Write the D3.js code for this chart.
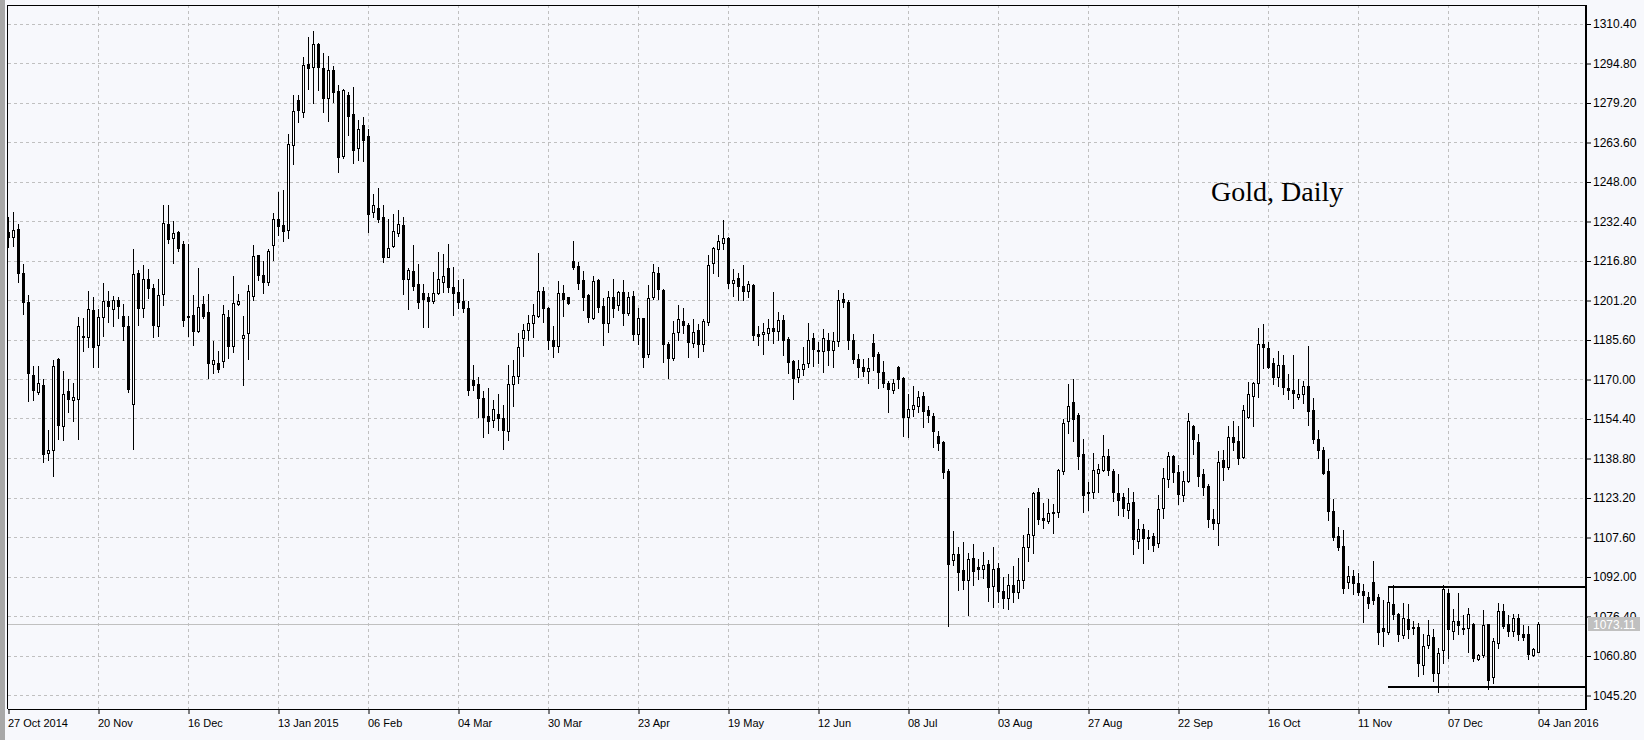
<!DOCTYPE html>
<html><head><meta charset="utf-8">
<script src="https://cdn.jsdelivr.net/npm/d3@7"></script>
<style>
html,body{margin:0;padding:0;background:#F7F8FC;}
svg{display:block;}
</style></head>
<body>
<svg id="chart" width="1644" height="740"></svg>
<script>
// ---- DATA (Gold daily OHLC, 27 Oct 2014 – 04 Jan 2016) ----
const open = [1228.2,1226.1,1229.1,1211.9,1200.4,1171.6,1165.0,1167.6,1140.8,1141.8,1177.8,1151.5,1165.2,1161.9,1162.1,1187.0,1186.5,1197.4,1183.5,1194.5,
1200.9,1197.6,1201.3,1195.0,1191.0,1160.0,1211.9,1198.0,1209.3,1206.0,1190.8,1203.6,1231.1,1225.8,1228.2,1223.5,1195.0,1195.4,1189.0,1199.5,
1196.3,1176.1,1176.3,1177.1,1194.5,1183.0,1199.5,1186.0,1188.3,1202.7,1218.9,1211.0,1208.3,1223.1,1233.1,1230.7,1229.0,1262.6,1280.1,1275.5,
1294.3,1293.3,1302.2,1293.0,1280.8,1292.2,1283.7,1258.1,1282.1,1274.8,1261.3,1270.2,1265.9,1236.0,1237.7,1234.0,1218.2,1222.5,1227.8,1230.8,
1209.3,1212.6,1207.7,1203.8,1202.2,1200.9,1204.0,1208.4,1213.7,1206.2,1204.2,1200.8,1197.9,1169.5,1167.9,1162.6,1155.3,1153.9,1156.0,1154.7,
1149.3,1167.9,1171.2,1186.0,1189.5,1192.3,1194.9,1204.7,1198.1,1185.3,1183.1,1203.8,1202.2,1216.6,1214.6,1209.1,1203.1,1193.9,1209.1,1198.8,
1192.2,1202.2,1199.2,1204.2,1196.1,1202.7,1187.6,1193.9,1180.0,1202.5,1211.7,1205.1,1184.0,1178.1,1188.4,1193.0,1191.5,1184.3,1189.5,1183.7,
1192.6,1215.7,1221.2,1223.8,1225.5,1208.1,1209.7,1206.7,1204.8,1207.1,1187.7,1187.7,1188.0,1190.3,1189.0,1193.2,1185.7,1177.0,1170.8,1173.9,
1176.2,1186.2,1181.5,1181.2,1185.4,1181.5,1185.1,1201.6,1200.3,1185.4,1177.9,1174.9,1173.0,1184.2,1179.9,1172.6,1168.4,1165.6,1174.9,1170.4,
1154.9,1158.1,1159.2,1163.4,1157.9,1155.3,1147.6,1145.2,1133.8,1098.5,1100.9,1094.6,1090.7,1099.3,1095.6,1094.9,1096.9,1088.4,1095.3,1086.4,
1083.5,1088.5,1086.0,1090.5,1103.8,1108.3,1125.4,1115.0,1113.9,1117.0,1117.3,1133.5,1153.6,1161.1,1155.6,1140.4,1125.4,1125.2,1132.7,1134.2,
1139.5,1133.8,1124.9,1123.5,1118.2,1121.5,1106.0,1110.6,1107.6,1108.0,1105.1,1119.0,1130.5,1139.5,1133.4,1124.1,1129.8,1151.6,1145.3,1132.4,
1127.6,1114.9,1113.2,1137.9,1135.3,1146.9,1145.4,1139.0,1155.0,1163.3,1168.6,1184.0,1182.4,1176.5,1170.8,1175.7,1166.6,1165.8,1163.0,1163.9,
1167.2,1157.7,1146.5,1141.9,1133.6,1117.8,1107.9,1103.9,1089.8,1092.1,1089.5,1086.1,1084.1,1090.0,1083.8,1071.6,1070.0,1081.0,1077.0,1069.0,
1075.3,1072.0,1072.0,1057.2,1065.1,1068.3,1054.0,1063.1,1085.6,1070.4,1074.6,1071.8,1071.6,1073.1,1059.5,1061.1,1073.1,1052.3,1065.8,1078.2,
1073.1,1070.3,1075.7,1069.1,1069.1,1061.1,1062.2];
const high = [1234.0,1236.0,1231.1,1215.6,1203.2,1175.1,1175.1,1169.9,1149.8,1177.5,1178.2,1173.2,1170.1,1168.5,1194.3,1194.1,1204.9,1202.3,1197.6,1207.9,
1204.6,1202.9,1202.3,1199.6,1194.7,1221.2,1213.2,1215.2,1213.6,1207.5,1209.3,1238.6,1238.6,1232.4,1228.5,1224.5,1223.5,1203.3,1213.9,1202.9,
1203.6,1185.0,1181.0,1199.1,1197.1,1210.6,1203.7,1194.9,1207.3,1222.8,1219.0,1216.6,1221.5,1235.6,1243.9,1244.5,1266.7,1282.1,1282.1,1297.2,
1305.1,1307.4,1302.8,1298.9,1297.5,1293.5,1286.0,1284.5,1283.4,1285.4,1272.2,1273.5,1268.9,1243.2,1245.6,1238.6,1233.0,1235.1,1236.8,1234.1,
1213.7,1222.9,1215.4,1207.7,1203.8,1212.1,1220.0,1219.3,1223.2,1214.3,1209.1,1209.3,1200.8,1175.4,1170.6,1165.1,1166.6,1161.6,1164.0,1159.6,
1175.4,1177.7,1188.0,1191.9,1195.2,1199.6,1219.9,1206.2,1198.5,1190.9,1208.8,1207.1,1202.5,1224.6,1216.3,1212.8,1203.4,1210.6,1209.5,1201.8,
1204.8,1209.3,1204.8,1209.1,1204.4,1204.8,1197.9,1194.0,1207.1,1215.3,1214.1,1205.4,1184.7,1193.0,1199.4,1197.9,1192.2,1193.5,1191.7,1193.5,
1219.0,1222.2,1226.9,1232.8,1226.0,1213.4,1212.0,1215.0,1208.7,1207.5,1190.9,1192.2,1193.5,1204.4,1196.5,1195.2,1186.6,1177.4,1177.4,1182.8,
1192.0,1188.0,1184.5,1189.7,1188.0,1188.7,1205.1,1204.0,1201.2,1187.8,1179.9,1177.9,1178.3,1187.8,1180.5,1177.2,1169.3,1170.0,1175.0,1170.7,
1164.1,1167.4,1165.4,1164.7,1159.5,1156.6,1149.6,1145.6,1134.4,1110.1,1103.8,1105.5,1101.1,1104.8,1098.9,1101.8,1098.5,1103.8,1097.5,1092.0,
1093.0,1096.0,1099.4,1108.3,1119.2,1125.4,1126.8,1121.2,1122.8,1120.8,1134.4,1154.3,1168.2,1170.1,1156.6,1146.3,1129.4,1140.8,1136.4,1147.7,
1142.4,1134.4,1132.5,1124.8,1126.8,1125.2,1114.6,1112.9,1110.2,1109.3,1124.1,1134.7,1141.3,1140.1,1136.2,1133.5,1156.6,1151.8,1148.3,1134.6,
1128.7,1118.8,1141.5,1141.9,1151.4,1153.3,1151.4,1159.7,1168.9,1168.9,1190.2,1191.7,1184.7,1178.1,1181.0,1179.4,1171.9,1179.4,1169.9,1169.1,
1183.0,1162.3,1150.0,1143.2,1138.3,1122.8,1111.6,1110.3,1096.0,1094.7,1093.4,1089.1,1085.8,1098.3,1085.2,1082.8,1087.8,1088.5,1077.5,1081.5,
1081.0,1074.4,1073.7,1069.4,1075.0,1071.4,1063.9,1088.8,1087.1,1079.2,1085.4,1076.6,1079.6,1073.6,1061.5,1078.6,1073.3,1067.8,1081.6,1081.2,
1076.6,1077.3,1077.3,1072.7,1072.4,1063.7,1074.2];
const low = [1222.0,1222.5,1208.2,1195.8,1161.4,1161.9,1163.9,1137.2,1138.1,1131.7,1146.5,1145.8,1157.0,1153.5,1146.5,1181.2,1182.8,1174.9,1174.9,1186.8,
1192.7,1190.8,1194.1,1185.5,1165.0,1142.5,1191.4,1194.3,1202.0,1186.4,1186.8,1199.1,1223.8,1215.9,1220.5,1190.8,1186.8,1183.5,1188.4,1194.1,
1170.3,1172.4,1172.8,1174.7,1178.3,1180.7,1199.1,1167.8,1178.0,1201.3,1209.0,1204.0,1207.0,1216.9,1226.8,1224.5,1225.7,1255.1,1271.5,1273.5,
1284.7,1279.1,1284.1,1275.5,1272.0,1279.4,1251.8,1257.1,1266.5,1255.3,1256.4,1256.0,1228.1,1234.0,1232.0,1216.2,1218.0,1222.0,1226.5,1203.5,
1197.6,1205.1,1198.1,1190.6,1190.6,1200.0,1203.5,1204.4,1204.4,1195.2,1198.1,1196.5,1163.8,1165.8,1155.0,1147.1,1148.7,1151.0,1149.7,1142.5,
1146.0,1159.3,1168.6,1179.1,1185.6,1186.6,1194.6,1192.6,1181.8,1178.5,1180.7,1194.8,1199.8,1213.4,1205.4,1197.2,1192.6,1193.5,1196.3,1183.3,
1188.6,1194.6,1197.2,1191.5,1195.2,1185.6,1183.7,1174.8,1178.5,1201.4,1201.4,1176.8,1170.2,1177.7,1185.6,1188.0,1178.5,1182.7,1178.8,1181.0,
1191.3,1212.0,1210.8,1221.3,1205.8,1202.7,1201.1,1201.1,1202.5,1185.3,1183.6,1179.8,1185.6,1184.3,1185.3,1179.4,1172.5,1162.2,1168.8,1171.7,
1174.9,1175.3,1176.2,1172.6,1175.7,1174.6,1183.2,1198.3,1181.9,1176.2,1170.7,1171.3,1168.3,1173.5,1166.4,1167.0,1156.8,1164.5,1166.4,1147.4,
1147.2,1155.5,1157.1,1150.9,1152.9,1143.0,1141.9,1130.9,1072.6,1096.7,1086.7,1087.1,1076.9,1088.8,1091.0,1091.4,1082.2,1080.1,1082.0,1079.5,
1079.0,1082.0,1083.5,1087.5,1098.0,1101.4,1112.9,1111.3,1113.3,1109.3,1115.5,1132.5,1148.6,1145.7,1134.4,1117.3,1118.2,1123.2,1125.2,1133.8,
1132.1,1121.9,1116.2,1115.9,1115.3,1100.7,1103.4,1097.5,1102.7,1102.0,1103.8,1115.0,1127.2,1129.2,1120.8,1121.9,1129.2,1140.4,1127.8,1124.1,
1111.6,1110.9,1104.3,1130.0,1134.4,1141.9,1136.3,1138.8,1154.6,1151.4,1162.9,1174.4,1174.4,1168.2,1167.2,1163.9,1162.0,1158.6,1162.0,1160.6,
1151.7,1144.8,1138.8,1132.4,1114.2,1106.3,1102.4,1085.5,1087.6,1085.2,1084.5,1074.0,1079.6,1081.2,1065.4,1064.5,1069.4,1075.3,1066.5,1067.7,
1067.8,1069.1,1052.7,1053.6,1063.7,1050.7,1046.4,1057.8,1059.9,1067.2,1069.1,1069.1,1062.2,1058.6,1058.9,1060.2,1047.7,1050.1,1063.7,1071.6,
1068.5,1068.5,1066.8,1066.8,1059.5,1060.6,1062.0];
const close = [1226.0,1228.7,1211.9,1200.3,1172.5,1165.6,1168.3,1140.5,1141.8,1175.1,1151.8,1164.1,1162.1,1162.9,1191.0,1186.6,1197.6,1182.8,1194.5,1200.9,
1198.7,1201.3,1198.7,1191.0,1166.0,1211.5,1198.0,1209.5,1206.0,1191.2,1203.3,1231.5,1225.1,1227.5,1221.6,1193.4,1194.4,1188.8,1198.4,1195.0,
1176.5,1177.4,1173.9,1195.5,1183.0,1200.2,1200.7,1187.3,1204.6,1218.5,1211.2,1208.3,1220.4,1233.0,1230.5,1228.5,1262.7,1275.8,1276.4,1293.9,
1292.9,1302.2,1293.3,1281.0,1292.2,1283.4,1257.7,1284.1,1273.9,1260.4,1268.9,1264.3,1235.3,1238.6,1233.3,1218.2,1221.8,1228.5,1231.1,1209.5,
1213.0,1206.8,1200.5,1201.5,1200.9,1203.8,1209.3,1210.8,1206.4,1204.0,1200.5,1197.9,1165.8,1167.8,1162.5,1155.0,1153.4,1158.3,1154.6,1149.7,
1167.9,1171.1,1182.7,1189.5,1192.3,1195.2,1204.7,1198.2,1185.6,1183.1,1203.8,1201.5,1200.1,1214.3,1208.0,1202.5,1194.6,1208.7,1198.5,1192.2,
1202.2,1198.1,1204.2,1196.1,1202.5,1187.6,1193.9,1178.5,1201.8,1212.1,1205.4,1184.0,1178.3,1188.0,1193.5,1191.5,1184.7,1188.4,1183.7,1193.0,
1215.0,1221.6,1224.6,1225.5,1208.0,1209.1,1206.8,1204.8,1207.5,1187.3,1187.1,1188.4,1190.0,1189.0,1193.2,1185.3,1176.8,1170.4,1174.1,1175.9,
1185.4,1181.8,1181.0,1186.2,1181.5,1185.1,1201.2,1200.3,1185.4,1177.9,1174.9,1173.0,1174.3,1179.2,1172.6,1168.3,1166.0,1168.4,1170.0,1154.9,
1158.1,1159.7,1162.8,1157.5,1155.9,1149.3,1144.7,1133.1,1096.9,1100.9,1093.6,1090.6,1098.9,1094.3,1095.0,1096.7,1088.0,1094.9,1086.4,1083.5,
1088.5,1086.0,1090.5,1103.8,1108.7,1124.8,1114.6,1114.3,1117.0,1117.6,1134.0,1152.7,1159.3,1154.3,1139.7,1124.1,1124.8,1134.0,1134.4,1139.5,
1134.0,1125.2,1122.1,1119.0,1120.9,1106.7,1110.6,1107.3,1107.3,1104.3,1118.6,1130.9,1139.7,1133.1,1124.5,1129.8,1153.6,1146.3,1131.8,1127.4,
1114.6,1113.2,1137.3,1135.3,1146.9,1145.2,1138.8,1157.9,1163.9,1168.6,1184.0,1182.7,1174.8,1170.8,1175.7,1166.9,1165.6,1164.5,1163.9,1167.2,
1157.3,1146.5,1142.1,1132.9,1117.9,1107.6,1103.7,1087.6,1092.1,1089.4,1085.8,1084.8,1081.5,1082.8,1070.0,1070.4,1082.1,1077.0,1069.1,1075.7,
1071.4,1071.6,1058.0,1064.4,1069.0,1054.0,1061.9,1086.9,1071.4,1074.4,1072.9,1071.1,1077.3,1059.8,1061.1,1072.7,1051.2,1066.4,1078.2,1072.3,
1070.4,1075.7,1069.4,1068.3,1061.5,1063.2,1073.11];

const dateTickIndex = [0,18,36,54,72,90,108,126,144,162,180,198,216,234,252,270,288,306];
const dateTickLabels = ["27 Oct 2014","20 Nov","16 Dec","13 Jan 2015","06 Feb","04 Mar","30 Mar","23 Apr","19 May","12 Jun","08 Jul","03 Aug","27 Aug","22 Sep","16 Oct","11 Nov","07 Dec","04 Jan 2016"];
const priceTicks = [1310.40,1294.80,1279.20,1263.60,1248.00,1232.40,1216.80,1201.20,1185.60,1170.00,1154.40,1138.80,1123.20,1107.60,1092.00,1076.40,1060.80,1045.20];
const currentPrice = 1073.11;
const levelStartIndex = 276;
const levels = [1087.8, 1048.4];
const title = "Gold, Daily";

// ---- LAYOUT ----
const W = 1644, H = 740;
const plotL = 8, plotR = 1585, plotT = 5, plotB = 709;
const svg = d3.select("#chart");

const x = d3.scaleLinear().domain([0, 306]).range([8.5, 1538.5]);
const y = d3.scaleLinear().domain([1045.2, 1310.4]).range([695, 23.5]);
const ry = v => Math.round(y(v)) + 0.5;

// background
svg.append("rect").attr("x",0).attr("y",0).attr("width",W).attr("height",H).attr("fill","#F7F8FC");
svg.append("rect").attr("x",0).attr("y",0).attr("width",5).attr("height",H).attr("fill","#A8A8A8");

const grid = svg.append("g");
grid.selectAll("line.h").data(priceTicks).join("line")
  .attr("x1", plotL).attr("x2", plotR)
  .attr("y1", d => ry(d)).attr("y2", d => ry(d))
  .attr("stroke","#C0C0C0").attr("stroke-dasharray","3,3").attr("stroke-width",1);
grid.selectAll("line.v").data(dateTickIndex.slice(1)).join("line")
  .attr("x1", d => x(d)).attr("x2", d => x(d))
  .attr("y1", plotT).attr("y2", plotB)
  .attr("stroke","#C0C0C0").attr("stroke-dasharray","3,3").attr("stroke-width",1);

// current price line
svg.append("line").attr("x1",plotL).attr("x2",plotR)
  .attr("y1",ry(currentPrice)).attr("y2",ry(currentPrice))
  .attr("stroke","#C0C0C0").attr("stroke-width",1);

// candles
const idx = d3.range(open.length);
const cg = svg.append("g");
cg.selectAll("line.wick").data(idx).join("line")
  .attr("x1", i => x(i)).attr("x2", i => x(i))
  .attr("y1", i => ry(high[i]) - 0.5).attr("y2", i => ry(low[i]) + 0.5)
  .attr("stroke","#000").attr("stroke-width",1);
cg.selectAll("rect.body").data(idx).join("rect")
  .attr("x", i => x(i) - 1)
  .attr("y", i => ry(Math.max(open[i], close[i])))
  .attr("width", 2)
  .attr("height", i => Math.max(0, ry(Math.min(open[i], close[i])) - ry(Math.max(open[i], close[i]))))
  .attr("fill", i => close[i] >= open[i] ? "#FFFFFF" : "#000000")
  .attr("stroke","#000").attr("stroke-width",1);

// support / resistance lines
svg.selectAll("line.level").data(levels).join("line")
  .attr("x1", x(levelStartIndex) - 0.5).attr("x2", plotR)
  .attr("y1", d => Math.round(y(d))).attr("y2", d => Math.round(y(d)))
  .attr("stroke","#000").attr("stroke-width",2);

// frame
svg.append("line").attr("x1",plotL-0.5).attr("x2",plotL-0.5).attr("y1",plotT).attr("y2",plotB).attr("stroke","#000").attr("stroke-width",1);
svg.append("line").attr("x1",plotL).attr("x2",plotR).attr("y1",plotT+0.5).attr("y2",plotT+0.5).attr("stroke","#000").attr("stroke-width",1);
svg.append("line").attr("x1",plotR+1).attr("x2",plotR+1).attr("y1",plotT).attr("y2",plotB).attr("stroke","#000").attr("stroke-width",2);
svg.append("line").attr("x1",plotL).attr("x2",plotR+2).attr("y1",plotB+0.5).attr("y2",plotB+0.5).attr("stroke","#000").attr("stroke-width",1);

// right axis
const yAxis = d3.axisRight(y).tickValues(priceTicks).tickSize(4).tickPadding(2).tickFormat(d3.format(".2f"));
const ya = svg.append("g").attr("transform", `translate(${plotR+2},0.5)`).call(yAxis);
ya.select(".domain").remove();
ya.selectAll("text").attr("font-family","Liberation Sans, Arial, sans-serif").attr("font-size","12px").attr("fill","#000");
ya.selectAll("line").attr("stroke","#000");

// current price label
svg.append("rect").attr("x",plotR+3).attr("y",Math.round(y(currentPrice))-7).attr("width",52).attr("height",14).attr("fill","#C0C0C0");
svg.append("text").attr("x",plotR+8).attr("y",Math.round(y(currentPrice))+4.5)
  .attr("font-family","Liberation Sans, Arial, sans-serif").attr("font-size","12px").attr("fill","#FFFFFF")
  .text(d3.format(".2f")(currentPrice));

// bottom axis
const xAxis = d3.axisBottom(x).tickValues(dateTickIndex).tickSize(4).tickFormat((d,i) => dateTickLabels[i]);
const xa = svg.append("g").attr("transform", `translate(0,${plotB+1})`).call(xAxis);
xa.select(".domain").remove();
xa.selectAll("line").attr("stroke","#000");
xa.selectAll("text").attr("text-anchor","start").attr("dx", -1).attr("dy","0.9em")
  .attr("font-family","Liberation Sans, Arial, sans-serif").attr("font-size","11px").attr("fill","#000");

// title
svg.append("text").attr("x",1211).attr("y",201)
  .attr("font-family","Liberation Serif, Times New Roman, serif").attr("font-size","28px").attr("fill","#000")
  .text(title);
</script>
</body></html>
